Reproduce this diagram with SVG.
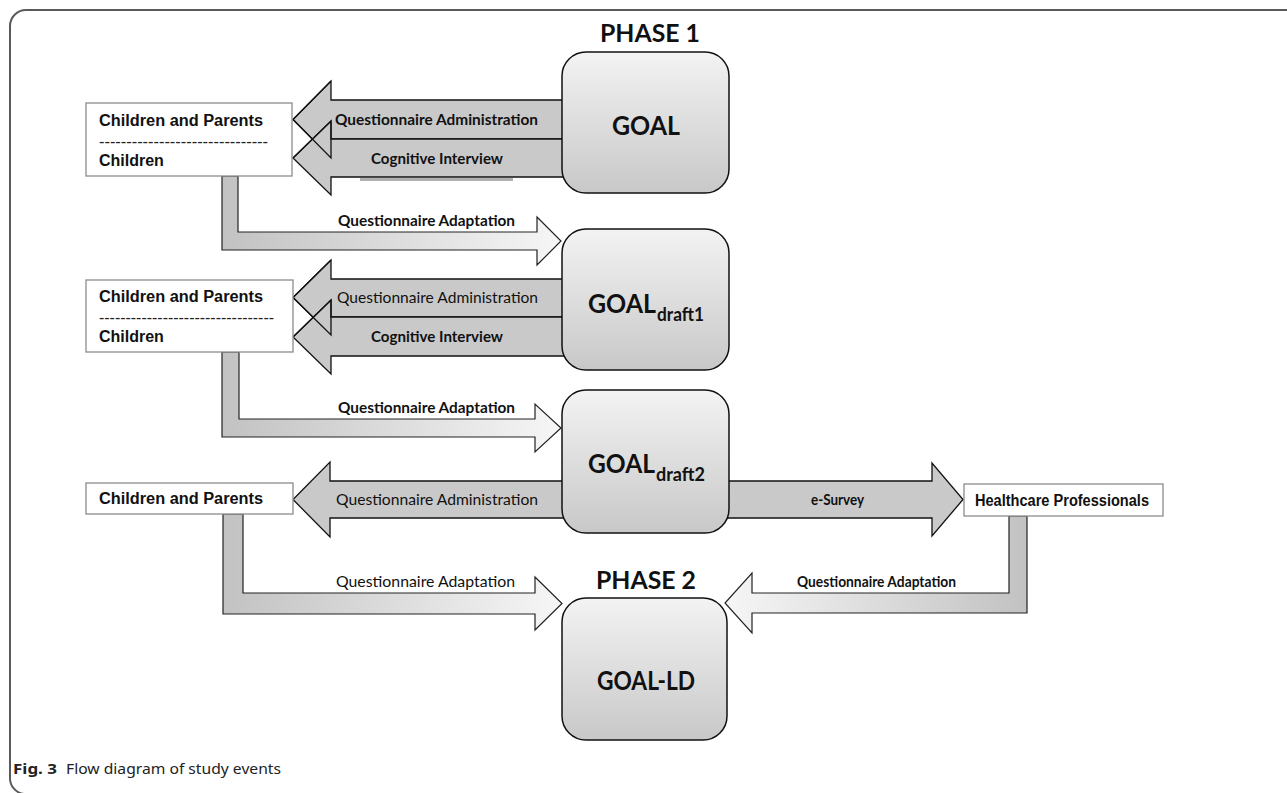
<svg xmlns="http://www.w3.org/2000/svg" width="1287" height="793" viewBox="0 0 1287 793">
<style>
.frame{fill:none;stroke:#5a5a5a;stroke-width:2}
.big{fill:#c9c9c9;stroke:#111;stroke-width:1.3;stroke-linejoin:miter}
.outl{fill:none;stroke:#111;stroke-width:1.3}
.adapt{stroke:#222;stroke-width:1.2}
.goal{fill:url(#gbox);stroke:#111;stroke-width:1.5}
.who{fill:#fff;stroke:#8c8c8c;stroke-width:1.3}
.lb{font-family:Lato,"Open Sans",sans-serif;font-size:15px;font-weight:bold;fill:#111}
.lr{font-family:Lato,"Open Sans",sans-serif;font-size:15px;font-weight:normal;fill:#111}
.bx{font-family:"Liberation Sans",Arial,sans-serif;font-size:16px;font-weight:bold;fill:#111}
.dash{font-family:"Liberation Sans",Arial,sans-serif;font-size:16px;fill:#222}
.gt{font-family:Lato,"Open Sans",sans-serif;font-size:26px;font-weight:bold;fill:#111}
.gs{font-family:Lato,"Open Sans",sans-serif;font-size:18px;font-weight:bold;fill:#111}
.ph{font-family:Lato,"Open Sans",sans-serif;font-size:25px;font-weight:bold;fill:#111}
.cap{font-family:"Noto Sans","Open Sans",sans-serif;font-size:15px;fill:#222}
</style>
<defs>
<linearGradient id="gbox" x1="0" y1="0" x2="0" y2="1">
<stop offset="0" stop-color="#f3f3f3"/>
<stop offset="1" stop-color="#c8c8c8"/>
</linearGradient>
<linearGradient id="ga1" gradientUnits="userSpaceOnUse" x1="222" y1="0" x2="561" y2="0">
<stop offset="0" stop-color="#c2c2c2"/>
<stop offset="1" stop-color="#f6f6f6"/>
</linearGradient>
<linearGradient id="ga2" gradientUnits="userSpaceOnUse" x1="1027" y1="0" x2="725" y2="0">
<stop offset="0" stop-color="#c2c2c2"/>
<stop offset="1" stop-color="#f6f6f6"/>
</linearGradient>
</defs>
<rect width="1287" height="793" fill="#fff"/>
<path class="frame" d="M1292,10 H26 A16,16 0 0 0 10,26 V778 A16,16 0 0 0 24,794"/>

<g id="connectors">
<rect x="360" y="178" width="153" height="3" fill="#b0b0b0"/>
<polygon class="big" points="580,100 331,100 331,81 293,119.5 331,158 331,139 580,139"/>
<polygon class="big" points="580,139 331,139 331,121 293,158 331,195 331,177 580,177"/>
<polyline class="outl" points="331,139 331,158 293,119.5 331,81"/>
<polyline class="outl" points="331,139 331,121 293,158"/>
<text class="lb" x="335" y="125" textLength="203" lengthAdjust="spacingAndGlyphs">Questionnaire Administration</text>
<text class="lb" x="371" y="164" textLength="132" lengthAdjust="spacingAndGlyphs">Cognitive Interview</text>

<path class="adapt" fill="url(#ga1)" d="M222,176 L222,250 L537,250 L537,265 L561,241 L537,217 L537,232 L238,232 L238,176 Z"/>
<text class="lb" x="338" y="226" textLength="177" lengthAdjust="spacingAndGlyphs">Questionnaire Adaptation</text>

<polygon class="big" points="580,279 331,279 331,260 293,297.5 331,335 331,317 580,317"/>
<polygon class="big" points="580,317 331,317 331,300 293,337 331,374 331,356 580,356"/>
<polyline class="outl" points="331,317 331,335 293,297.5 331,260"/>
<polyline class="outl" points="331,317 331,300 293,337"/>
<text class="lr" x="337" y="303" textLength="201" lengthAdjust="spacingAndGlyphs">Questionnaire Administration</text>
<text class="lb" x="371" y="342" textLength="132" lengthAdjust="spacingAndGlyphs">Cognitive Interview</text>

<path class="adapt" fill="url(#ga1)" d="M222,352 L222,437 L535,437 L535,452 L561,428 L535,404 L535,419 L239,419 L239,352 Z"/>
<text class="lb" x="338" y="413" textLength="177" lengthAdjust="spacingAndGlyphs">Questionnaire Adaptation</text>

<polygon class="big" points="580,481 330,481 330,462 293,499.5 330,537 330,518 580,518"/>
<text class="lr" x="336" y="505" textLength="202" lengthAdjust="spacingAndGlyphs">Questionnaire Administration</text>

<polygon class="big" points="710,481 932,481 932,463 963,499.5 932,536 932,518 710,518"/>
<text class="lb" x="811" y="505" textLength="53" lengthAdjust="spacingAndGlyphs">e-Survey</text>

<path class="adapt" fill="url(#ga1)" d="M223,514 L223,614 L535,614 L535,630 L562,603.5 L535,577 L535,593 L243,593 L243,514 Z"/>
<text class="lr" x="336" y="587" textLength="179" lengthAdjust="spacingAndGlyphs">Questionnaire Adaptation</text>

<path class="adapt" fill="url(#ga2)" d="M1027,516 L1027,613 L752,613 L752,633 L725,603 L752,573 L752,593 L1009,593 L1009,516 Z"/>
<text class="lb" x="797" y="587" textLength="159" lengthAdjust="spacingAndGlyphs">Questionnaire Adaptation</text>
</g>

<g id="phase1">
<text class="ph" x="600" y="42" textLength="100" lengthAdjust="spacingAndGlyphs">PHASE 1</text>
</g>
<g id="phase2">
<text class="ph" x="596" y="589" textLength="100" lengthAdjust="spacingAndGlyphs">PHASE 2</text>
</g>

<g id="goal">
<rect class="goal" x="562" y="52" width="167" height="141" rx="24"/>
<text class="gt" x="612" y="135" textLength="68" lengthAdjust="spacingAndGlyphs">GOAL</text>
</g>
<g id="goal-draft1">
<rect class="goal" x="562" y="229" width="167" height="141" rx="24"/>
<text class="gt" x="588" y="313" textLength="68" lengthAdjust="spacingAndGlyphs">GOAL</text>
<text class="gs" x="657" y="321" textLength="47" lengthAdjust="spacingAndGlyphs">draft1</text>
</g>
<g id="goal-draft2">
<rect class="goal" x="562" y="390" width="167" height="143" rx="24"/>
<text class="gt" x="588" y="473" textLength="67" lengthAdjust="spacingAndGlyphs">GOAL</text>
<text class="gs" x="656" y="481" textLength="49" lengthAdjust="spacingAndGlyphs">draft2</text>
</g>
<g id="goal-ld">
<rect class="goal" x="562" y="598" width="165" height="142" rx="24"/>
<text class="gt" x="597" y="690" textLength="98" lengthAdjust="spacingAndGlyphs">GOAL-LD</text>
</g>

<g id="children-parents-1">
<rect class="who" x="86" y="103" width="206" height="73"/>
<text class="bx" x="99" y="126" textLength="164" lengthAdjust="spacingAndGlyphs">Children and Parents</text>
<text class="dash" x="99" y="147" textLength="169" lengthAdjust="spacingAndGlyphs">-------------------------------</text>
<text class="bx" x="99" y="166">Children</text>
</g>
<g id="children-parents-2">
<rect class="who" x="86" y="280" width="207" height="72"/>
<text class="bx" x="99" y="302" textLength="164" lengthAdjust="spacingAndGlyphs">Children and Parents</text>
<text class="dash" x="99" y="323" textLength="175" lengthAdjust="spacingAndGlyphs">---------------------------------</text>
<text class="bx" x="99" y="342">Children</text>
</g>
<g id="children-parents-3">
<rect class="who" x="86" y="483" width="207" height="31"/>
<text class="bx" x="99" y="504" textLength="164" lengthAdjust="spacingAndGlyphs">Children and Parents</text>
</g>
<g id="healthcare-professionals">
<rect class="who" x="964" y="484" width="199" height="32"/>
<text class="bx" x="975" y="506" font-size="15" textLength="174" lengthAdjust="spacingAndGlyphs">Healthcare Professionals</text>
</g>

<g id="caption">
<text class="cap" x="13" y="774" font-weight="bold" textLength="44" lengthAdjust="spacingAndGlyphs">Fig. 3</text>
<text class="cap" x="66" y="774" textLength="215" lengthAdjust="spacingAndGlyphs">Flow diagram of study events</text>
</g>
</svg>
